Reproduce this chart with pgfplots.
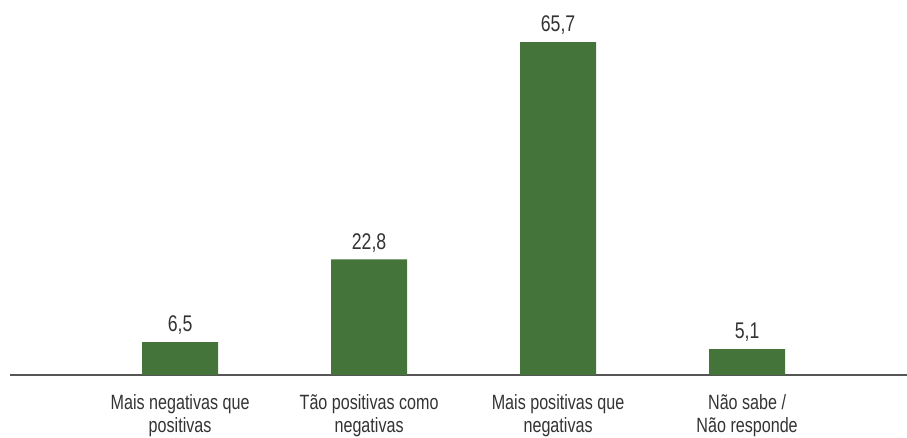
\documentclass[border=0pt]{standalone}
\usepackage{pgfplots}
\pgfplotsset{compat=1.18}
\usepackage{fontspec}
\setmainfont{Liberation Sans}[FakeStretch=0.78]
\definecolor{bargreen}{HTML}{45743A}
\definecolor{axgray}{HTML}{555555}
\definecolor{txt}{HTML}{333333}

\begin{document}
\begin{tikzpicture}
\begin{axis}[
    name=ax,
    scale only axis,
    width=672.75pt, height=281.25pt,
    ybar, bar width=57pt,
    xmin=-0.9, xmax=3.846,
    ymin=0, ymax=74,
    axis x line*=bottom,
    axis y line=none,
    axis line style={axgray, line width=1.5pt},
    x axis line style={-},
    xtick=data,
    xticklabels={{Mais negativas que\\positivas},{Tão positivas como\\negativas},{Mais positivas que\\negativas},{Não sabe /\\Não responde}},
    major tick length=0pt,
    xticklabel style={font=\fontsize{15.5}{17}\selectfont, text=txt, align=center, anchor=north, yshift=-11pt},
    nodes near coords,
    nodes near coords style={font=\fontsize{17}{17}\selectfont, text=txt, yshift=2pt, /pgf/number format/.cd, use comma, fixed, fixed zerofill, precision=1, assume math mode=true},
    clip=false,
]
\addplot[fill=bargreen, draw=none] coordinates {(0,6.5) (1,22.8) (2,65.7) (3,5.1)};
\end{axis}
\pgfresetboundingbox
\path[use as bounding box] ([xshift=-7.5pt,yshift=-47.25pt]ax.south west) rectangle (ax.north east);
\end{tikzpicture}
\end{document}
